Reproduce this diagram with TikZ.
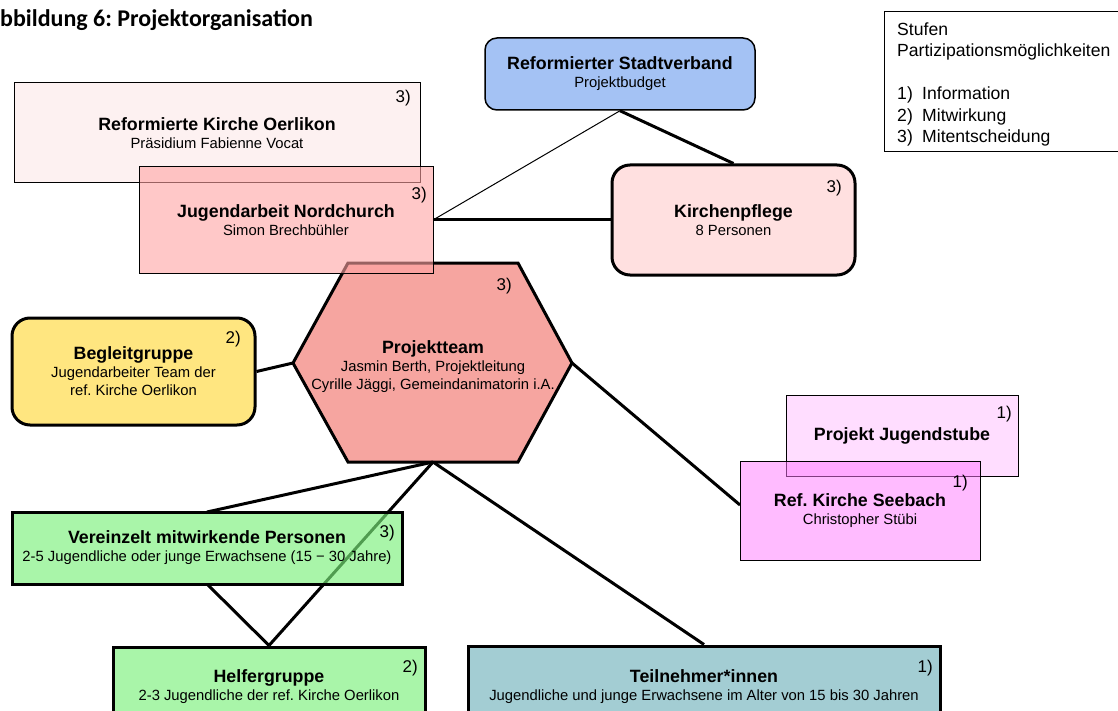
\documentclass[tikz,border=0pt]{standalone}
\usepackage{fontspec}
\setmainfont{Liberation Sans}
\newfontfamily\titlefont{Carlito}
\usetikzlibrary{calc}
\frenchspacing
\definecolor{cblue}{HTML}{A4C2F4}
\definecolor{cpinkl}{HTML}{FDF1F1}
\definecolor{cpink}{HTML}{FFE0E0}
\definecolor{cjug}{HTML}{FFA3A3}
\definecolor{chex}{HTML}{F6A5A0}
\definecolor{cyel}{HTML}{FFE680}
\definecolor{cstube}{HTML}{FFDDFF}
\definecolor{csee}{HTML}{FF77FF}
\definecolor{cgreen}{HTML}{A9F5A9}
\definecolor{cgreent}{HTML}{7BF07B}
\definecolor{cteal}{HTML}{A3CDD3}
\newcommand\hdfnt{\fontsize{17.8}{18}\selectfont\bfseries}
\begin{document}
\begin{tikzpicture}[x=1pt,y=-1pt,
  box/.style={draw=black, line width=1pt, rectangle, inner sep=0pt, align=center,
    font=\fontsize{14.8}{18}\selectfont, text opacity=1},
  thickbox/.style={box, line width=3pt},
  numlbl/.style={font=\fontsize{17}{18}\selectfont, inner sep=0pt, anchor=base east},
  conn/.style={line width=3pt},
  thinconn/.style={line width=1pt}]
\useasboundingbox (0,0) rectangle (1118,711);

% title
\node[anchor=base west, inner sep=0pt, font=\titlefont\fontsize{24}{25}\selectfont\bfseries] (title) at (0,27) {bbildung 6: Projektorganisation};

% legend
\draw[line width=1pt] (884,12) -- (1125,12) (884,12) -- (884,152) -- (1125,152);
\node[anchor=base west, inner sep=0pt, align=left, font=\fontsize{17.6}{21.5}\selectfont] (legend) at (897,143)
  {Stufen\\Partizipationsmöglichkeiten\\[21.5pt]\makebox[25pt][l]{1)}Information\\\makebox[25pt][l]{2)}Mitwirkung\\\makebox[25pt][l]{3)}Mitentscheidung};

% Oerlikon
\node[box, fill=cpinkl, minimum width=406pt, minimum height=100pt] (oer) at (217,133)
  {{\hdfnt Reformierte Kirche Oerlikon}\\Präsidium Fabienne Vocat};
\node[numlbl] (oern) at (411,103) {3)};

% Stadtverband
\node[box, line width=1.5pt, rounded corners=12pt, fill=cblue, minimum width=270pt, minimum height=72pt] (stv) at (620,74)
  {{\hdfnt Reformierter Stadtverband}\\Projektbudget};

% Kirchenpflege
\node[thickbox, rounded corners=18pt, fill=cpink, minimum width=243pt, minimum height=110pt] (kp) at (733.5,220)
  {{\hdfnt Kirchenpflege}\\8 Personen};
\node[numlbl] (kpn) at (842,193) {3)};

% Hexagon
\coordinate (hexl) at (293,363);
\coordinate (hexr) at (572,363);
\coordinate (hexb) at (433,462);
\draw[line width=3pt, fill=chex, line join=miter] (hexl) -- (348,263) -- (518,263) -- (hexr) -- (518,462) -- (348,462) -- cycle;
\node[align=center, inner sep=0pt, font=\fontsize{14.8}{18}\selectfont] (hex) at (433,367)
  {{\hdfnt Projektteam}\\Jasmin Berth, Projektleitung\\Cyrille Jäggi, Gemeindanimatorin i.A.};
\node[numlbl] (hexn) at (512,290) {3)};

% connectors
\draw[conn] (stv.south) -- (kp.north);
\draw[thinconn] (stv.south) -- (433,220);
\draw[conn] (433,220) -- (kp.west);

% Jugendarbeit
\node[box, fill=cjug, fill opacity=0.6, minimum width=294pt, minimum height=106pt] (jug) at (286,220)
  {{\hdfnt Jugendarbeit Nordchurch}\\Simon Brechbühler};
\node[numlbl] (jugn) at (427,200) {3)};

% Begleitgruppe
\node[thickbox, rounded corners=18pt, fill=cyel, minimum width=243pt, minimum height=107pt] (beg) at (133.5,371.5)
  {{\hdfnt Begleitgruppe}\\Jugendarbeiter Team der\\ref. Kirche Oerlikon};
\node[numlbl] (begn) at (241,343) {2)};
\draw[conn] (beg.east) -- (hexl);

% Jugendstube and Seebach
\node[box, fill=cstube, minimum width=232pt, minimum height=81pt] (stube) at (902,435.5)
  {{\hdfnt Projekt Jugendstube}};
\node[numlbl] (stuben) at (1012,418) {1)};
\draw[conn] (hexr) -- (740,505);
\node[box, fill=csee, fill opacity=0.5, minimum width=240pt, minimum height=99pt] (see) at (860,510.5)
  {{\hdfnt Ref. Kirche Seebach}\\Christopher Stübi};
\node[numlbl] (seen) at (968,487) {1)};

% bottom boxes
\node[thickbox, fill=cgreen, minimum width=312pt, minimum height=80pt] (helf) at (269,687)
  {{\hdfnt Helfergruppe}\\2-3 Jugendliche der ref. Kirche Oerlikon};
\node[numlbl] (helfn) at (418,672) {2)};
\node[thickbox, fill=cteal, minimum width=472pt, minimum height=82pt] (teil) at (704,687)
  {{\hdfnt Teilnehmer*innen}\\Jugendliche und junge Erwachsene im Alter von 15 bis 30 Jahren};
\node[numlbl] (teiln) at (933,672) {1)};

\coordinate (vtop) at (207,512);
\coordinate (vbot) at (207,584);
\draw[conn] (hexb) -- (vtop);
\draw[conn] (hexb) -- (helf.north);
\draw[conn] (hexb) -- (teil.north);
\draw[conn] (vbot) -- (helf.north);

\node[thickbox, fill=cgreent, fill opacity=0.65, minimum width=390pt, minimum height=72pt] (ver) at (207,548)
  {{\hdfnt Vereinzelt mitwirkende Personen}\\2-5 Jugendliche oder junge Erwachsene (15 − 30 Jahre)};
\node[numlbl] (vern) at (395,537) {3)};
\end{tikzpicture}
\end{document}
